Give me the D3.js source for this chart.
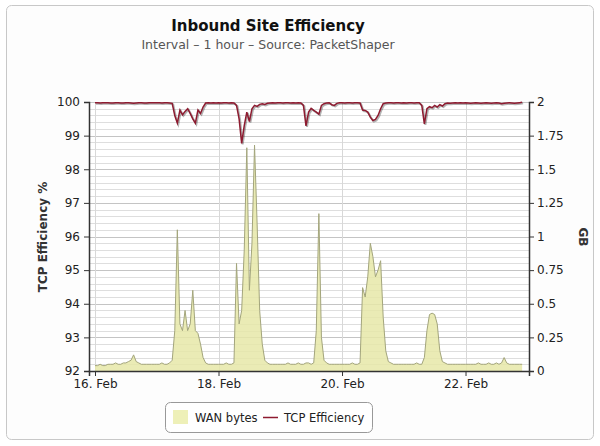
<!DOCTYPE html>
<html>
<head>
<meta charset="utf-8">
<script src="https://cdn.jsdelivr.net/npm/d3@7"></script>
<style>
  body { margin: 0; background: #fff; }
  svg text { font-family: "DejaVu Sans", sans-serif; }
</style>
</head>
<body>
<div id="chart"></div>
<script>
// hourly samples, starting 16 Feb 00:00
const seriesStart = Date.UTC(2013, 1, 16, 0);

// WAN bytes (GB), one row per day
const wanBytes = [
  0.04, 0.04, 0.05, 0.04, 0.04, 0.05, 0.05, 0.05, 0.06, 0.05, 0.05, 0.06, 0.06, 0.07, 0.08, 0.12, 0.07, 0.06, 0.05, 0.05, 0.05, 0.05, 0.05, 0.05,
  0.05, 0.05, 0.06, 0.05, 0.05, 0.06, 0.08, 0.3, 1.05, 0.35, 0.3, 0.45, 0.3, 0.35, 0.6, 0.3, 0.28, 0.2, 0.1, 0.06, 0.05, 0.05, 0.05, 0.05,
  0.05, 0.05, 0.05, 0.06, 0.05, 0.05, 0.06, 0.8, 0.35, 0.45, 0.9, 1.66, 0.6, 0.95, 1.68, 1.1, 0.45, 0.2, 0.08, 0.06, 0.05, 0.05, 0.05, 0.05,
  0.05, 0.05, 0.05, 0.06, 0.05, 0.05, 0.05, 0.06, 0.05, 0.05, 0.06, 0.06, 0.05, 0.06, 0.3, 1.17, 0.25, 0.08, 0.06, 0.05, 0.05, 0.05, 0.05, 0.05,
  0.05, 0.05, 0.05, 0.05, 0.06, 0.05, 0.05, 0.06, 0.62, 0.55, 0.7, 0.95, 0.85, 0.7, 0.75, 0.82, 0.4, 0.15, 0.07, 0.06, 0.05, 0.05, 0.05, 0.05,
  0.05, 0.05, 0.05, 0.05, 0.05, 0.06, 0.05, 0.05, 0.1, 0.3, 0.42, 0.43, 0.42, 0.35, 0.15, 0.07, 0.06, 0.05, 0.05, 0.05, 0.05, 0.05, 0.05, 0.05,
  0.05, 0.05, 0.05, 0.05, 0.05, 0.06, 0.05, 0.05, 0.05, 0.06, 0.05, 0.05, 0.06, 0.05, 0.06, 0.1, 0.06, 0.05, 0.05, 0.05, 0.05, 0.05, 0.05
];

// TCP efficiency (%), one row per day
const tcpEfficiency = [
  99.98, 99.98, 99.97, 99.98, 99.98, 99.98, 99.97, 99.97, 99.98, 99.98, 99.97, 99.97, 99.98, 99.98, 99.97, 99.96, 99.97, 99.98, 99.98, 99.97, 99.97, 99.98, 99.98, 99.98,
  99.98, 99.98, 99.97, 99.98, 99.98, 99.97, 99.96, 99.6, 99.37, 99.76, 99.62, 99.72, 99.8, 99.66, 99.5, 99.37, 99.76, 99.66, 99.85, 99.97, 99.98, 99.97, 99.98, 99.97,
  99.98, 99.97, 99.98, 99.98, 99.97, 99.98, 99.97, 99.9, 99.5, 98.77, 99.3, 99.7, 99.42, 99.8, 99.9, 99.87, 99.93, 99.95, 99.93, 99.96, 99.97, 99.98, 99.97, 99.98,
  99.98, 99.97, 99.98, 99.98, 99.97, 99.98, 99.97, 99.98, 99.97, 99.9, 99.29, 99.7, 99.81, 99.75, 99.7, 99.64, 99.9, 99.95, 99.97, 99.98, 99.92, 99.9, 99.96, 99.98,
  99.98, 99.97, 99.98, 99.98, 99.97, 99.98, 99.98, 99.97, 99.76, 99.75, 99.7, 99.55, 99.45, 99.48, 99.6, 99.8, 99.95, 99.97, 99.98, 99.98, 99.97, 99.98, 99.98, 99.97,
  99.98, 99.97, 99.98, 99.98, 99.97, 99.98, 99.98, 99.9, 99.35, 99.8, 99.86, 99.83, 99.9, 99.85, 99.92, 99.88, 99.95, 99.97, 99.96, 99.97, 99.98, 99.97, 99.98, 99.97,
  99.98, 99.97, 99.96, 99.97, 99.98, 99.97, 99.96, 99.97, 99.98, 99.97, 99.96, 99.97, 99.98, 99.97, 99.95, 99.96, 99.97, 99.98, 99.97, 99.96, 99.97, 99.98, 99.99
];

const xTickDays = [16, 18, 20, 22];
const effTicks = [92, 93, 94, 95, 96, 97, 98, 99, 100];
const gbTicks = [0, 0.25, 0.5, 0.75, 1, 1.25, 1.5, 1.75, 2];

const width = 600, height = 446;
const svg = d3.select('#chart').append('svg')
  .attr('width', width)
  .attr('height', height);

// panel
svg.append('rect')
  .attr('x', 6.5).attr('y', 5.5)
  .attr('width', 587).attr('height', 434)
  .attr('rx', 5)
  .attr('fill', '#fdfdfd')
  .attr('stroke', '#c8c8c8');

const plot = { left: 89, right: 529, top: 102, bottom: 371 };

const x = d3.scaleUtc()
  .domain([new Date(Date.UTC(2013, 1, 15, 21, 40)), new Date(Date.UTC(2013, 1, 23, 0, 40))])
  .range([plot.left, plot.right]);
const yEff = d3.scaleLinear().domain([92, 100]).range([plot.bottom, plot.top]);
const yGb = d3.scaleLinear().domain([0, 2]).range([plot.bottom, plot.top]);

const hourDate = i => new Date(seriesStart + i * 3600 * 1000);
const wanData = wanBytes.map((v, i) => ({ t: hourDate(i), v: v }));
const effData = tcpEfficiency.map((v, i) => ({ t: hourDate(i), v: v }));

// plot background
svg.append('rect')
  .attr('x', plot.left).attr('y', plot.top)
  .attr('width', plot.right - plot.left).attr('height', plot.bottom - plot.top)
  .attr('fill', '#fff');

// minor gridlines (every 0.2 %)
const minorTicks = d3.range(92, 100.001, 0.2);
svg.append('g').selectAll('line').data(minorTicks).join('line')
  .attr('x1', plot.left).attr('x2', plot.right)
  .attr('y1', d => Math.round(yEff(d)) + 0.5).attr('y2', d => Math.round(yEff(d)) + 0.5)
  .attr('stroke', '#dedede');

// major gridlines
svg.append('g').selectAll('line').data(effTicks).join('line')
  .attr('x1', plot.left).attr('x2', plot.right)
  .attr('y1', d => Math.round(yEff(d)) + 0.5).attr('y2', d => Math.round(yEff(d)) + 0.5)
  .attr('stroke', '#c4c4c4');

// vertical gridlines
const xTicks = xTickDays.map(d => new Date(Date.UTC(2013, 1, d)));
svg.append('g').selectAll('line').data(xTicks).join('line')
  .attr('x1', d => Math.round(x(d)) + 0.5).attr('x2', d => Math.round(x(d)) + 0.5)
  .attr('y1', plot.top).attr('y2', plot.bottom)
  .attr('stroke', '#d8d8d8');

// WAN bytes area
const area = d3.area()
  .x(d => x(d.t))
  .y0(yGb(0))
  .y1(d => yGb(d.v));
svg.append('path')
  .datum(wanData)
  .attr('d', area)
  .attr('fill', '#e6e8a8')
  .attr('fill-opacity', 0.85);
svg.append('path')
  .datum(wanData)
  .attr('d', d3.line().x(d => x(d.t)).y(d => yGb(d.v)))
  .attr('fill', 'none')
  .attr('stroke', '#a3a57c')
  .attr('stroke-width', 1);

// TCP efficiency line with shadow
const effLine = d3.line().x(d => x(d.t)).y(d => yEff(d.v));
svg.append('path')
  .datum(effData)
  .attr('d', effLine)
  .attr('transform', 'translate(1,1)')
  .attr('fill', 'none')
  .attr('stroke', 'rgba(0,0,0,0.3)')
  .attr('stroke-width', 2);
svg.append('path')
  .datum(effData)
  .attr('d', effLine)
  .attr('fill', 'none')
  .attr('stroke', '#8e1b30')
  .attr('stroke-width', 1.5);

// axes
const axisColor = '#333';
const leftAxis = svg.append('g')
  .attr('transform', 'translate(' + plot.left + ',0)')
  .call(d3.axisLeft(yEff).tickValues(effTicks).tickSize(5).tickPadding(4));
const rightAxis = svg.append('g')
  .attr('transform', 'translate(' + plot.right + ',0)')
  .call(d3.axisRight(yGb).tickValues(gbTicks).tickSize(5).tickPadding(3)
    .tickFormat(d => String(d)));
const bottomAxis = svg.append('g')
  .attr('transform', 'translate(0,' + plot.bottom + ')')
  .call(d3.axisBottom(x).tickValues(xTicks).tickSize(5).tickPadding(3)
    .tickFormat(d3.utcFormat('%-d. %b')));

[leftAxis, rightAxis, bottomAxis].forEach(a => {
  a.select('.domain').attr('stroke', axisColor).attr('stroke-width', 1.5);
  a.selectAll('.tick line').attr('stroke', axisColor);
  a.selectAll('.tick text')
    .attr('fill', '#222')
    .style('font-size', '12px');
});

// titles
svg.append('text')
  .attr('x', 268).attr('y', 31)
  .attr('text-anchor', 'middle')
  .style('font-size', '15px')
  .style('font-weight', 'bold')
  .attr('fill', '#111')
  .text('Inbound Site Efficiency');
svg.append('text')
  .attr('x', 268).attr('y', 49)
  .attr('text-anchor', 'middle')
  .style('font-size', '12.5px')
  .attr('fill', '#555')
  .text('Interval – 1 hour – Source: PacketShaper');

svg.append('text')
  .attr('transform', 'translate(47,237) rotate(-90)')
  .attr('text-anchor', 'middle')
  .style('font-size', '12px')
  .style('font-weight', 'bold')
  .attr('fill', '#333')
  .text('TCP Efficiency %');
svg.append('text')
  .attr('transform', 'translate(579,237) rotate(90)')
  .attr('text-anchor', 'middle')
  .style('font-size', '12px')
  .style('font-weight', 'bold')
  .attr('fill', '#333')
  .text('GB');

// legend
const legend = svg.append('g');
legend.append('rect')
  .attr('x', 165.5).attr('y', 402.5)
  .attr('width', 207).attr('height', 30)
  .attr('rx', 5)
  .attr('fill', '#fff')
  .attr('stroke', '#999');
legend.append('rect')
  .attr('x', 173).attr('y', 410)
  .attr('width', 15).attr('height', 14)
  .attr('fill', '#eef0b8');
legend.append('text')
  .attr('x', 195).attr('y', 422)
  .style('font-size', '11.5px')
  .attr('fill', '#222')
  .text('WAN bytes');
legend.append('line')
  .attr('x1', 263).attr('x2', 278)
  .attr('y1', 417.5).attr('y2', 417.5)
  .attr('stroke', '#8e1b30')
  .attr('stroke-width', 1.5);
legend.append('text')
  .attr('x', 284).attr('y', 422)
  .style('font-size', '11.5px')
  .attr('fill', '#222')
  .text('TCP Efficiency');
</script>
</body>
</html>
